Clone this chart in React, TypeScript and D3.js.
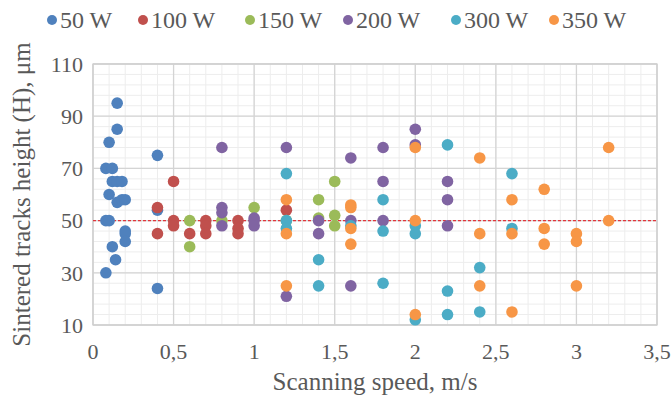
import React from "react";
import * as d3 from "d3";

// series names + colours (excel 2010 palette)
const seriesNames = ["50 W", "100 W", "150 W", "200 W", "300 W", "350 W"];
const seriesColors = ["#4f81bd", "#c0504d", "#9bbb59", "#8064a2", "#4bacc6", "#f79646"];

// [speed m/s, height um]
const w50 = [
  [0.15, 95], [0.15, 85], [0.1, 80], [0.4, 75], [0.08, 70], [0.12, 70],
  [0.12, 65], [0.15, 65], [0.18, 65], [0.1, 60], [0.15, 57], [0.18, 58],
  [0.2, 58], [0.08, 50], [0.1, 50], [0.2, 46], [0.2, 45], [0.2, 42],
  [0.12, 40], [0.14, 35], [0.08, 30], [0.4, 24], [0.4, 54],
];
const w100 = [
  [0.4, 55], [0.4, 45], [0.5, 65], [0.5, 50], [0.5, 48], [0.6, 45],
  [0.7, 50], [0.7, 48], [0.7, 45], [0.9, 50], [0.9, 47], [0.9, 45], [1.2, 54],
];
const w150 = [
  [0.6, 50], [0.6, 40], [0.8, 50], [1.0, 55], [1.2, 50], [1.4, 58],
  [1.4, 51], [1.5, 65], [1.5, 52], [1.5, 48],
];
const w200 = [
  [0.8, 78], [0.8, 55], [0.8, 53], [0.8, 48], [1.0, 51], [1.0, 50], [1.0, 48],
  [1.2, 78], [1.2, 21], [1.4, 50], [1.4, 45], [1.6, 74], [1.6, 50], [1.6, 25],
  [1.8, 78], [1.8, 65], [1.8, 50], [2.0, 85], [2.0, 79], [2.2, 65], [2.2, 58], [2.2, 48],
];
const w300 = [
  [1.2, 68], [1.2, 50], [1.2, 47], [1.4, 35], [1.4, 25], [1.6, 48], [1.8, 58],
  [1.8, 46], [1.8, 26], [2.0, 48], [2.0, 45], [2.0, 12], [2.2, 79], [2.2, 23],
  [2.2, 14], [2.4, 32], [2.4, 15], [2.6, 68], [2.6, 47],
];
const w350 = [
  [1.2, 58], [1.2, 45], [1.2, 25], [1.6, 56], [1.6, 55], [1.6, 47], [1.6, 41],
  [2.0, 78], [2.0, 50], [2.0, 14], [2.4, 74], [2.4, 45], [2.4, 25], [2.6, 58],
  [2.6, 45], [2.6, 15], [2.8, 62], [2.8, 47], [2.8, 41], [3.0, 45], [3.0, 42],
  [3.0, 25], [3.2, 78], [3.2, 50],
];
const allSeries = [w50, w100, w150, w200, w300, w350];

const xTicks = [0, 0.5, 1, 1.5, 2, 2.5, 3, 3.5];
const yTicks = [10, 30, 50, 70, 90, 110];
const targetHeight = 50;

const App = () => {
  const width = 672;
  const height = 401;
  const left = 93, right = 657, top = 64, bottom = 325;

  const x = d3.scaleLinear().domain([0, 3.5]).range([left, right]);
  const y = d3.scaleLinear().domain([10, 110]).range([bottom, top]);

  const minorX = d3.range(0, 3.51, 0.1);
  const minorY = d3.range(10, 110.1, 4);
  const fmt = (v) => String(v).replace(".", ",");
  const txt = { fontFamily: "'Times New Roman', Times, 'Liberation Serif', 'DejaVu Serif', serif", fill: "#595959" };
  const legendX = [52, 143, 250, 348, 456, 554];

  return (
    <svg width={width} height={height} style={{ position: "absolute", left: 0, top: 0, background: "#fff" }}>
      {/* minor grid */}
      {minorX.map((v, i) => (
        <line key={`mx${i}`} x1={x(v)} x2={x(v)} y1={top} y2={bottom} stroke="#ededed" strokeWidth={1} />
      ))}
      {minorY.map((v, i) => (
        <line key={`my${i}`} x1={left} x2={right} y1={y(v)} y2={y(v)} stroke="#ededed" strokeWidth={1} />
      ))}
      {/* major grid */}
      {xTicks.map((v) => (
        <line key={`gx${v}`} x1={x(v)} x2={x(v)} y1={top} y2={bottom} stroke="#d4d4d4" strokeWidth={1.3} />
      ))}
      {yTicks.map((v) => (
        <line key={`gy${v}`} x1={left} x2={right} y1={y(v)} y2={y(v)} stroke="#d4d4d4" strokeWidth={1.3} />
      ))}
      <rect x={left} y={top} width={right - left} height={bottom - top} fill="none" stroke="#cfcfcf" strokeWidth={1.3} />

      {/* reference line */}
      <line x1={x(0)} x2={x(3.5)} y1={y(targetHeight)} y2={y(targetHeight)} stroke="#e0353b" strokeWidth={1.3} strokeDasharray="3,2" />

      {allSeries.map((s, si) => (
        <g key={`s${si}`}>
          {s.map((d, i) => (
            <circle key={i} cx={x(d[0])} cy={y(d[1])} r={5.8} fill={seriesColors[si]} />
          ))}
        </g>
      ))}

      {/* axes labels */}
      {yTicks.map((v) => (
        <text key={`ty${v}`} x={left - 10} y={y(v)} dy="0.35em" textAnchor="end" fontSize={22} style={txt}>{v}</text>
      ))}
      {xTicks.map((v) => (
        <text key={`tx${v}`} x={x(v)} y={bottom + 34} textAnchor="middle" fontSize={22} style={txt}>{fmt(v)}</text>
      ))}
      <text x={(left + right) / 2} y={390} textAnchor="middle" fontSize={25} style={txt}>Scanning speed, m/s</text>
      <text transform={`translate(30, ${(top + bottom) / 2}) rotate(-90)`} textAnchor="middle" fontSize={25} style={txt}>
        Sintered tracks height (H), μm
      </text>

      {/* legend */}
      {seriesNames.map((n, i) => (
        <g key={n} transform={`translate(${legendX[i]}, 20)`}>
          <circle cx={0} cy={0} r={5} fill={seriesColors[i]} />
          <text x={8} y={0} dy="0.35em" fontSize={24} style={txt}>{n}</text>
        </g>
      ))}
    </svg>
  );
};

export default App;
